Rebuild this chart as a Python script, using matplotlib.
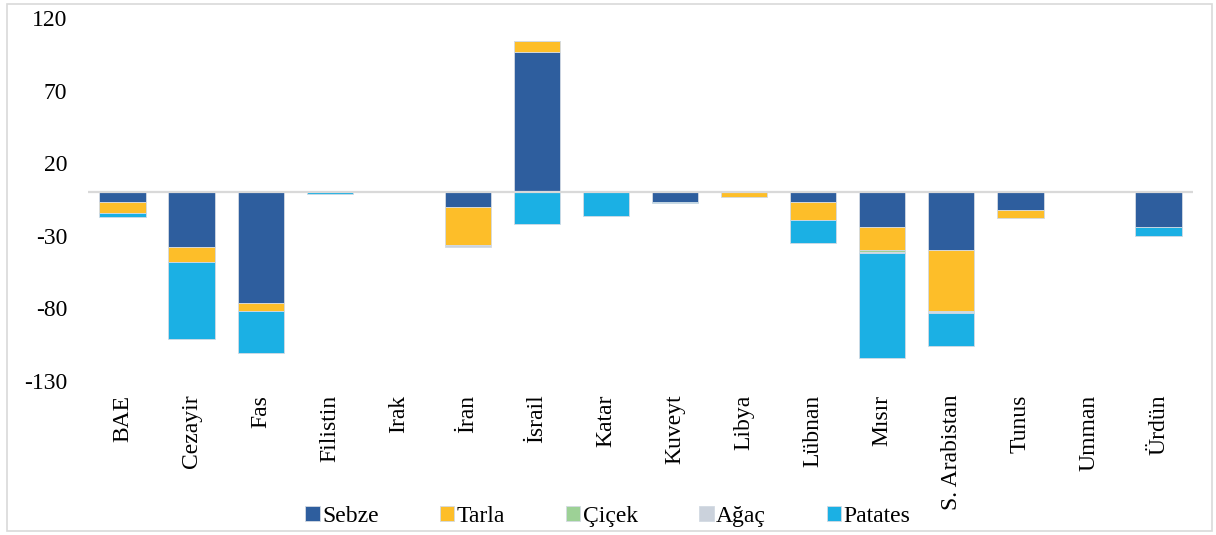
import numpy as np
import matplotlib
matplotlib.use("Agg")
import matplotlib.pyplot as plt
from matplotlib.patches import Rectangle

plt.rcParams['font.family'] = ['Liberation Serif', 'DejaVu Serif']
plt.rcParams['axes.unicode_minus'] = False

ulkeler = ["BAE", "Cezayir", "Fas", "Filistin", "Irak", "İran", "İsrail", "Katar",
           "Kuveyt", "Libya", "Lübnan", "Mısır", "S. Arabistan", "Tunus", "Umman", "Ürdün"]
sebze   = [-7, -38, -76, 0, 0, -10, 97, 0, -6.5, 0, -7, -24, -40, -12, 0, -24]
tarla   = [-7, -10, -6, 0, 0, -26, 7, 0, 0, -3, -12, -16, -42, -6, 0, 0]
cicek   = [0, 0, 0, 0, 0, 0, 0, 0, 0, 0, 0, -1.5, -0.5, 0, 0, 0]
agac    = [0, 0, 0, 0, 0, -1.5, 0, 0, 0, 0, 0, -0.5, -0.5, 0, 0, 0]
patates = [-3, -53, -29, -1.5, 0, 0, -22, -16, -1, 0, -16, -72, -23, 0, 0, -6]

seriler = [("Sebze", sebze, "#2E5E9E"), ("Tarla", tarla, "#FDBE29"),
           ("Çiçek", cicek, "#9DD196"), ("Ağaç", agac, "#CBD2DC"),
           ("Patates", patates, "#1BB0E4")]

fig = plt.figure(figsize=(12.16, 5.35), dpi=100)
ax = fig.add_axes([0.0724, 0.2882, 0.9087, 0.6776])

x = np.arange(len(ulkeler))
pos = np.zeros(len(ulkeler)); neg = np.zeros(len(ulkeler))
for ad, vals, renk in seriler:
    v = np.array(vals, dtype=float)
    alt = np.where(v >= 0, pos, neg)
    ax.bar(x, v, 0.67, bottom=alt, color=renk, label=ad,
           edgecolor="#d3dae3", linewidth=0.6, zorder=2)
    pos += np.where(v > 0, v, 0); neg += np.where(v < 0, v, 0)

ax.set_xlim(-0.5, len(ulkeler) - 0.5)
ax.set_ylim(-130, 120)
ax.set_yticks([-130, -80, -30, 20, 70, 120])
ax.axhline(0, color="#d9d9d9", lw=1.6, zorder=3)
for s in ax.spines.values():
    s.set_visible(False)
ax.tick_params(axis="y", length=0, pad=15, labelsize=17)
ax.tick_params(axis="x", length=0, pad=10, labelsize=17)
ax.set_xticks(x)
ax.set_xticklabels(ulkeler, rotation=90, va="top")

fig.legend(loc="center", bbox_to_anchor=(0.5, 0.034), ncol=5, frameon=False,
           fontsize=17, handlelength=0.6, handleheight=0.6, handletextpad=0.1,
           columnspacing=2.6)

fig.patches.append(Rectangle((0.006, 0.008), 0.991, 0.985, transform=fig.transFigure,
                             fill=False, edgecolor="#d9d9d9", lw=1.2))

fig.savefig("out.png", dpi=100, facecolor="white")
